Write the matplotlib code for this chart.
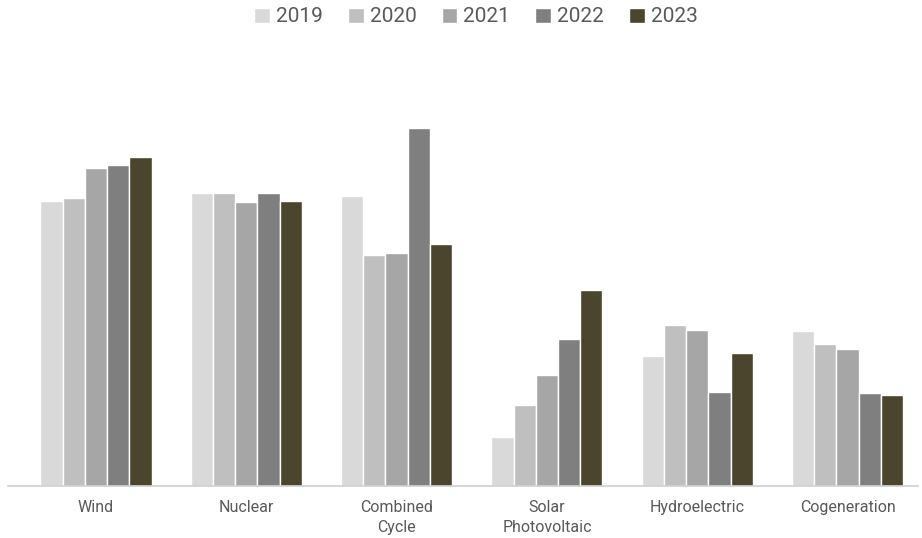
import matplotlib.pyplot as plt
import numpy as np

# electricity generation by source (approx. TWh)
categories = ['Wind', 'Nuclear', 'Combined\nCycle', 'Solar\nPhotovoltaic',
              'Hydroelectric', 'Cogeneration']
years = ['2019', '2020', '2021', '2022', '2023']

v2019 = [54.1, 55.7, 55.1, 9.3, 24.6, 29.5]
v2020 = [54.7, 55.6, 43.9, 15.3, 30.5, 27.0]
v2021 = [60.3, 53.9, 44.3, 21.0, 29.6, 26.0]
v2022 = [61.0, 55.7, 68.0, 27.9, 17.9, 17.7]
v2023 = [62.4, 54.1, 45.9, 37.2, 25.2, 17.2]

series = [v2019, v2020, v2021, v2022, v2023]
colors = ['#D9D9D9', '#BFBFBF', '#A6A6A6', '#7F7F7F', '#4A452C']

plt.rcParams['font.family'] = ['Roboto', 'DejaVu Sans']

fig = plt.figure(figsize=(9.22, 5.38), dpi=100)
ax = fig.add_axes([8 / 922, 52 / 538, 910 / 922, 426 / 538])

x = np.arange(len(categories))
w = 0.148
for i, (vals, c, yr) in enumerate(zip(series, colors, years)):
    ax.bar(x + (i - 2) * w, vals, width=w, color=c, edgecolor='white',
           linewidth=1.0, label=yr)

ax.set_xlim(-0.585, 5.469)
ax.set_ylim(0, 80.9)

for s in ['top', 'right', 'left']:
    ax.spines[s].set_visible(False)
ax.spines['bottom'].set_color('#D0D0D0')
ax.spines['bottom'].set_linewidth(1.2)
ax.set_yticks([])
ax.set_xticks(x)
ax.set_xticklabels(categories, fontsize=11.5, color='#595959', linespacing=1.45)
ax.tick_params(axis='x', length=0, pad=10)

fig.legend(loc='center', bbox_to_anchor=(476 / 922, 1 - 17 / 538), ncol=5,
           frameon=False, fontsize=15, handlelength=0.75, handleheight=0.75,
           handletextpad=0.3, columnspacing=1.2, labelcolor='#595959')

fig.savefig('out.png', dpi=100)
